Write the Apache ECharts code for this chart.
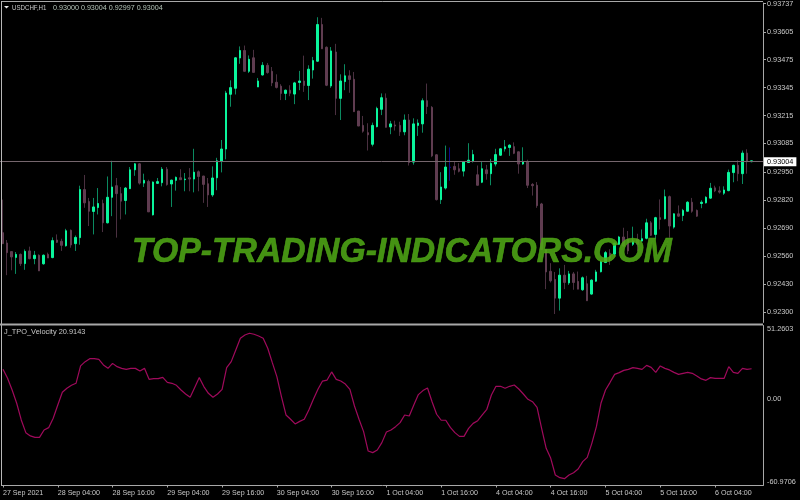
<!DOCTYPE html>
<html><head><meta charset="utf-8">
<style>html,body{margin:0;padding:0;background:#000}#c{width:800px;height:500px}</style>
<script src="https://cdn.jsdelivr.net/npm/echarts@6/dist/echarts.min.js"></script>
</head><body><div id="c"></div>
<script>
const opens=[0.92669,0.92621,0.92581,0.92554,0.92568,0.92525,0.92584,0.92548,0.92564,0.92524,0.92568,0.92553,0.92635,0.92629,0.92608,0.92680,0.92618,0.92646,0.92870,0.92814,0.92768,0.92786,0.92805,0.92715,0.92834,0.92888,0.92851,0.92819,0.92874,0.92962,0.92990,0.92900,0.92908,0.92752,0.92899,0.92902,0.92965,0.92896,0.92913,0.92925,0.92916,0.92925,0.92919,0.92953,0.92933,0.92897,0.92845,0.92925,0.93002,0.93059,0.93314,0.93342,0.93483,0.93518,0.93421,0.93484,0.93348,0.93404,0.93449,0.93421,0.93370,0.93352,0.93318,0.93333,0.93315,0.93369,0.93376,0.93355,0.93427,0.93468,0.93639,0.93533,0.93353,0.93511,0.93295,0.93373,0.93400,0.93384,0.93236,0.93169,0.93135,0.93081,0.93163,0.93244,0.93296,0.93162,0.93171,0.93169,0.93139,0.93194,0.92998,0.93169,0.93176,0.93284,0.93253,0.93032,0.92823,0.92877,0.92972,0.92978,0.92967,0.92956,0.92996,0.93002,0.92939,0.92904,0.92962,0.92944,0.92989,0.93030,0.93060,0.93066,0.93070,0.93046,0.92989,0.93001,0.92894,0.92890,0.92803,0.92591,0.92489,0.92451,0.92364,0.92471,0.92435,0.92477,0.92442,0.92403,0.92431,0.92383,0.92443,0.92487,0.92530,0.92573,0.92569,0.92615,0.92649,0.92638,0.92615,0.92638,0.92630,0.92643,0.92715,0.92661,0.92739,0.92734,0.92837,0.92695,0.92757,0.92749,0.92769,0.92811,0.92773,0.92805,0.92808,0.92830,0.92878,0.92864,0.92853,0.92865,0.92949,0.92983,0.92944,0.93040,0.93000];
const closes=[0.92618,0.92576,0.92556,0.92568,0.92525,0.92582,0.92548,0.92564,0.92491,0.92564,0.92551,0.92632,0.92624,0.92610,0.92678,0.92612,0.92647,0.92870,0.92808,0.92769,0.92789,0.92805,0.92715,0.92834,0.92882,0.92851,0.92816,0.92877,0.92962,0.92990,0.92900,0.92913,0.92766,0.92905,0.92907,0.92965,0.92893,0.92914,0.92927,0.92916,0.92919,0.92919,0.92951,0.92931,0.92894,0.92845,0.92924,0.93004,0.93059,0.93320,0.93345,0.93484,0.93518,0.93421,0.93477,0.93416,0.93376,0.93449,0.93415,0.93367,0.93346,0.93318,0.93333,0.93319,0.93367,0.93376,0.93355,0.93431,0.93471,0.93639,0.93526,0.93356,0.93516,0.93295,0.93376,0.93400,0.93383,0.93233,0.93166,0.93142,0.93125,0.93169,0.93248,0.93298,0.93160,0.93176,0.93166,0.93139,0.93194,0.92996,0.93176,0.93180,0.93284,0.93257,0.93027,0.92823,0.92882,0.92975,0.92975,0.92962,0.92955,0.92999,0.93007,0.93033,0.92890,0.92967,0.92944,0.92992,0.93033,0.93060,0.93069,0.93077,0.93039,0.92989,0.92999,0.92890,0.92888,0.92795,0.92591,0.92486,0.92445,0.92364,0.92471,0.92437,0.92477,0.92437,0.92406,0.92459,0.92352,0.92448,0.92486,0.92535,0.92576,0.92549,0.92620,0.92649,0.92607,0.92584,0.92630,0.92615,0.92641,0.92715,0.92657,0.92739,0.92731,0.92837,0.92700,0.92757,0.92746,0.92773,0.92811,0.92769,0.92746,0.92811,0.92834,0.92876,0.92864,0.92858,0.92868,0.92950,0.92983,0.92944,0.93040,0.93000,0.93004];
const highs=[0.92823,0.92635,0.92581,0.92579,0.92572,0.92591,0.92604,0.92584,0.92568,0.92568,0.92576,0.92647,0.92661,0.92641,0.92687,0.92684,0.92656,0.92888,0.92938,0.92831,0.92831,0.92877,0.92823,0.92931,0.93004,0.92924,0.92882,0.92882,0.92975,0.92993,0.92993,0.92944,0.92916,0.92908,0.92924,0.92975,0.92975,0.92916,0.92931,0.92965,0.92947,0.92970,0.93060,0.92959,0.92934,0.92924,0.92978,0.93018,0.93101,0.93330,0.93379,0.93487,0.93537,0.93541,0.93495,0.93521,0.93390,0.93464,0.93460,0.93441,0.93407,0.93361,0.93336,0.93356,0.93372,0.93423,0.93494,0.93449,0.93488,0.93673,0.93670,0.93537,0.93534,0.93549,0.93407,0.93454,0.93426,0.93418,0.93236,0.93213,0.93179,0.93182,0.93256,0.93318,0.93318,0.93190,0.93191,0.93186,0.93220,0.93222,0.93202,0.93197,0.93295,0.93364,0.93259,0.93035,0.92951,0.93075,0.93066,0.93001,0.92993,0.93001,0.93086,0.93055,0.92982,0.92998,0.92985,0.93013,0.93060,0.93063,0.93101,0.93081,0.93090,0.93047,0.93067,0.93009,0.92900,0.92905,0.92808,0.92591,0.92527,0.92486,0.92503,0.92519,0.92491,0.92486,0.92488,0.92465,0.92468,0.92452,0.92496,0.92538,0.92584,0.92592,0.92623,0.92654,0.92692,0.92677,0.92697,0.92664,0.92684,0.92734,0.92723,0.92743,0.92824,0.92870,0.92842,0.92759,0.92796,0.92780,0.92816,0.92831,0.92777,0.92820,0.92839,0.92901,0.92888,0.92885,0.92885,0.92963,0.92986,0.93006,0.93052,0.93058,0.93004];
const lows=[0.92618,0.92471,0.92494,0.92477,0.92514,0.92496,0.92545,0.92522,0.92491,0.92520,0.92551,0.92550,0.92622,0.92584,0.92604,0.92599,0.92584,0.92613,0.92785,0.92700,0.92661,0.92754,0.92672,0.92712,0.92746,0.92646,0.92731,0.92754,0.92873,0.92934,0.92893,0.92882,0.92766,0.92749,0.92896,0.92885,0.92888,0.92789,0.92865,0.92916,0.92862,0.92862,0.92857,0.92862,0.92808,0.92789,0.92836,0.92867,0.92950,0.93011,0.93256,0.93313,0.93456,0.93421,0.93413,0.93416,0.93348,0.93401,0.93410,0.93352,0.93341,0.93287,0.93287,0.93305,0.93268,0.93333,0.93325,0.93287,0.93387,0.93465,0.93526,0.93352,0.93344,0.93217,0.93194,0.93333,0.93321,0.93233,0.93166,0.93135,0.93052,0.93071,0.93160,0.93217,0.93160,0.93128,0.93145,0.93120,0.93123,0.92982,0.92986,0.93120,0.93135,0.93222,0.93021,0.92819,0.92803,0.92870,0.92911,0.92939,0.92950,0.92931,0.92996,0.92996,0.92890,0.92900,0.92916,0.92890,0.92978,0.93027,0.93047,0.93027,0.93035,0.92944,0.92985,0.92877,0.92842,0.92785,0.92591,0.92406,0.92437,0.92290,0.92306,0.92406,0.92426,0.92403,0.92406,0.92398,0.92352,0.92380,0.92440,0.92484,0.92527,0.92519,0.92561,0.92612,0.92604,0.92569,0.92607,0.92584,0.92626,0.92638,0.92654,0.92638,0.92684,0.92731,0.92646,0.92688,0.92743,0.92723,0.92768,0.92762,0.92743,0.92783,0.92805,0.92827,0.92858,0.92851,0.92845,0.92862,0.92904,0.92909,0.92896,0.92944,0.92997];
const velocity=[20.5,14.2,6.0,-3.3,-15.0,-23.9,-26.2,-27.2,-27.2,-22.0,-20.4,-13.8,-4.5,4.4,7.2,9.3,10.7,22.9,25.9,28.0,28.0,27.5,23.6,21.2,24.7,22.4,21.2,20.5,21.2,21.2,19.4,21.2,13.5,14.0,14.0,14.9,11.4,10.7,9.3,6.0,3.2,0.9,7.7,14.7,8.4,3.7,0.9,3.2,6.5,21.7,25.9,34.1,42.3,44.6,45.8,45.1,43.9,42.3,35.3,25.2,15.4,1.4,-11.5,-14.5,-17.8,-16.0,-14.5,-8.0,-0.5,6.5,12.3,13.0,18.7,13.5,12.3,10.2,6.5,-5.2,-14.5,-23.2,-36.8,-37.9,-36.1,-30.9,-23.4,-22.0,-19.7,-16.9,-11.5,-12.2,-4.5,2.8,5.6,7.4,-2.2,-11.0,-15.2,-15.2,-20.2,-23.9,-26.5,-26.5,-20.9,-17.4,-15.5,-11.5,-7.5,2.5,8.6,8.6,7.2,8.6,9.5,6.7,3.2,-0.5,-2.2,-6.1,-20.9,-34.9,-41.9,-53.6,-55.5,-56.2,-53.6,-52.0,-49.4,-44.2,-41.2,-31.4,-19.7,-3.3,6.0,11.4,17.0,18.2,19.8,20.5,21.7,21.2,20.5,23.3,21.9,18.4,22.9,21.2,20.1,18.4,17.0,17.7,18.4,17.7,15.9,13.8,12.8,14.7,14.2,14.2,14.2,22.4,18.4,17.7,21.2,20.5,20.9143];
const dateTicks=['27 Sep 2021','28 Sep 04:00','28 Sep 16:00','29 Sep 04:00','29 Sep 16:00','30 Sep 04:00','30 Sep 16:00','1 Oct 04:00','1 Oct 16:00','4 Oct 04:00','4 Oct 16:00','5 Oct 04:00','5 Oct 16:00','6 Oct 04:00'];
const priceTicks=[0.93737,0.93605,0.93475,0.93345,0.93215,0.93085,0.92950,0.92820,0.92690,0.92560,0.92430,0.92300];
const velocityTicks=[51.2603,0,-60.9706];
const lastPrice=0.93004;
const priceMax=0.93739, priceMin=0.92251;
const blueBar=98;
const titleSymbol='USDCHF,H1', titleOhlc='0.93000 0.93004 0.92997 0.93004';
const indicatorTitle='J_TPO_Velocity 20.9143';
const watermark='TOP-TRADING-INDICATORS.COM';

const FONT='"Liberation Sans",Arial,sans-serif';
const TXT='#c8c8c8', AXIS='#a8a8a8';
const BULL='#0af59c', BEAR='#5f3c50', BULLW='#0b8a60', BEARW='#4a3040', BLUE='#0a0a8c';
const SLOTS=167;
const cats=Array.from({length:SLOTS},(_,i)=>i%12===0&&dateTicks[i/12]?dateTicks[i/12]:'·'+i);
const every12=(i)=>i%12===0&&i/12<dateTicks.length;
const wick=opens.map((o,i)=>{
  const v=[o,closes[i],lows[i],highs[i]];
  return i===blueBar?{value:v,itemStyle:{borderColor:BLUE,borderColor0:BLUE,color:BLUE,color0:BLUE}}:v;
});
const body=opens.map((o,i)=>{
  const v=[o,closes[i],Math.min(o,closes[i]),Math.max(o,closes[i])];
  return i===blueBar?{value:v,itemStyle:{color:BLUE,color0:BLUE,borderColor:BLUE,borderColor0:BLUE}}:v;
});
const chart=echarts.init(document.getElementById('c'),null,{renderer:'canvas'});
const line=(x1,y1,x2,y2,c,w)=>({type:'line',silent:true,z:20,shape:{x1,y1,x2,y2},style:{stroke:c,lineWidth:w}});
const txt=(x,y,t,c,sx)=>({type:'text',silent:true,z:30,x,y,scaleX:sx||1,style:{text:t,fill:c,font:'7.4px '+FONT,textVerticalAlign:'middle'}});
chart.setOption({
  animation:false,backgroundColor:'#000',
  grid:[{left:0,top:1.4,width:763,height:321},{left:0,top:325.5,width:763,height:160}],
  xAxis:[
    {type:'category',gridIndex:0,data:cats,axisLine:{show:false},axisTick:{show:false},axisLabel:{show:false},splitLine:{show:false}},
    {type:'category',gridIndex:1,data:cats,axisLine:{show:false,onZero:false},
     axisTick:{show:true,alignWithLabel:true,interval:every12,length:2,lineStyle:{color:AXIS}},
     axisLabel:{interval:every12,formatter:v=>v.charAt(0)==='·'?'':v,align:'left',margin:4,color:TXT,fontSize:7.1,fontFamily:FONT,hideOverlap:false},
     splitLine:{show:false}}
  ],
  yAxis:[
    {type:'value',gridIndex:0,position:'right',min:priceMin,max:priceMax,scale:true,splitLine:{show:false},
     axisLine:{show:true,lineStyle:{color:AXIS}},
     axisTick:{show:true,length:3,lineStyle:{color:AXIS},customValues:priceTicks},
     axisLabel:{customValues:priceTicks,formatter:v=>v.toFixed(5),margin:4,color:TXT,fontSize:7.3,fontFamily:FONT}},
    {type:'value',gridIndex:1,position:'right',min:velocityTicks[2],max:velocityTicks[0],splitLine:{show:false},
     axisLine:{show:true,lineStyle:{color:AXIS}},
     axisTick:{show:false,customValues:velocityTicks},
     axisLabel:{customValues:velocityTicks,formatter:v=>v===0?'0.00':String(v),margin:4,color:TXT,fontSize:7.3,fontFamily:FONT,
       verticalAlignMaxLabel:'bottom',verticalAlignMinLabel:'top'}}
  ],
  series:[
    {type:'candlestick',xAxisIndex:0,yAxisIndex:0,barWidth:1,data:wick,silent:true,
     itemStyle:{color:BULLW,color0:BEARW,borderColor:BULLW,borderColor0:BEARW,borderWidth:1},
     markLine:{silent:true,symbol:'none',animation:false,data:[{yAxis:lastPrice}],lineStyle:{color:'#75666d',width:1,type:'solid'},
       label:{position:'end',distance:1,formatter:()=>lastPrice.toFixed(5),color:'#000',backgroundColor:'#fff',padding:[1,3,1,3],fontSize:7.3,fontFamily:FONT}}},
    {type:'candlestick',xAxisIndex:0,yAxisIndex:0,barWidth:2,data:body,silent:true,
     itemStyle:{color:BULL,color0:BEAR,borderColor:BULL,borderColor0:BEAR,borderWidth:1}},
    {type:'line',xAxisIndex:1,yAxisIndex:1,data:velocity,showSymbol:false,silent:true,lineStyle:{color:'#a00a5c',width:1.2}}
  ],
  graphic:{elements:[
    line(1.5,1.5,763,1.5,AXIS,1),
    line(1.5,1,1.5,486,'#b8b8b8',1),
    line(0,324.5,763,324.5,AXIS,2),
    line(1.5,485.5,763,485.5,AXIS,1),
    {type:'polygon',silent:true,z:30,shape:{points:[[4,6],[9,6],[6.5,8.5]]},style:{fill:'#e8e8e8'}},
    txt(12,7.5,titleSymbol,TXT,0.83),
    txt(53,7.5,titleOhlc,'#b4c4b8',0.97),
    txt(4,332,indicatorTitle,TXT),
    {type:'text',silent:true,z:25,x:132,y:235,scaleX:0.964,style:{text:watermark,fill:'rgba(80,170,22,0.86)',stroke:'rgba(80,170,22,0.86)',lineWidth:0.6,font:'italic bold 35px '+FONT}}
  ]}
});
</script></body></html>
